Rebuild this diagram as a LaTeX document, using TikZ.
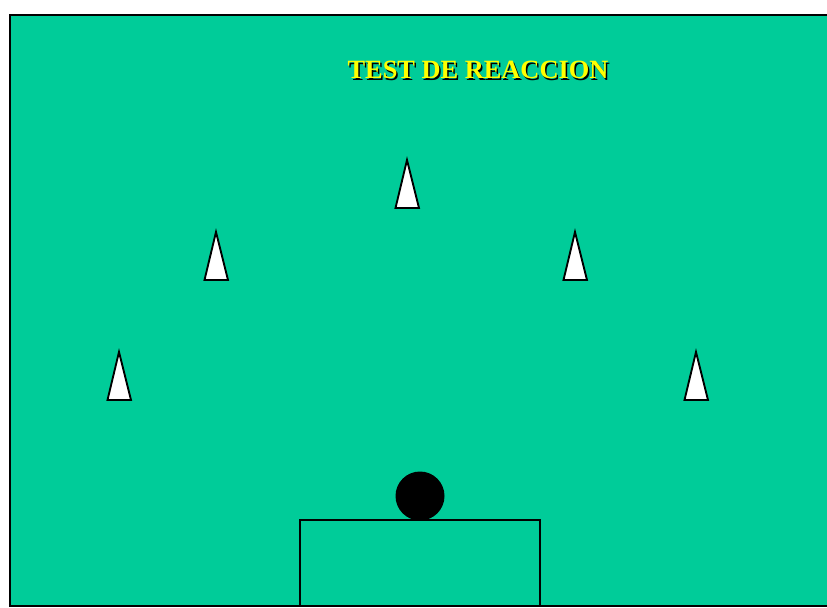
\documentclass[tikz,border=0pt]{standalone}
\usepackage{fontspec}
\setmainfont{Liberation Serif}
\usetikzlibrary{positioning,calc}
\definecolor{pitch}{HTML}{00CC99}
\definecolor{titleyellow}{HTML}{FFFF00}
\tikzset{
	cone/.style={draw,line width=1.6pt,fill=white,line join=miter},
	border/.style={draw,line width=1.5pt},
	ttl/.style={font=\bfseries\fontsize{22.5}{26}\selectfont,inner sep=0pt}
}
\begin{document}
\begin{tikzpicture}[x=0.03cm,y=-0.03cm]
		\useasboundingbox (0,0) rectangle (827,608);
		\fill[pitch] (10,15) rectangle (827,606);
		\draw[border] (827,15) -- (10,15) -- (10,606) -- (827,606);
		% title with shadow
		\node[ttl,text=black] at (479.5,71.5) {TEST DE REACCION};
		\node[ttl,text=titleyellow] (title) at (478,70) {TEST DE REACCION};
		% cones
		\foreach \n/\x/\y in {c1/407/160,c2/216/232,c3/575/232,c4/119/352,c5/696/352}
			\draw[cone] (\x,\y) coordinate (\n) -- ++(12,48) -- ++(-23.5,0) -- cycle;
		% ball and goal
		\node[circle,fill=black,minimum size=49*0.03cm,inner sep=0pt] (ball) at (420,496) {};
		\draw[border] (300,606) -- (300,520) -- (540,520) -- (540,606);
	\end{tikzpicture}
\end{document}
